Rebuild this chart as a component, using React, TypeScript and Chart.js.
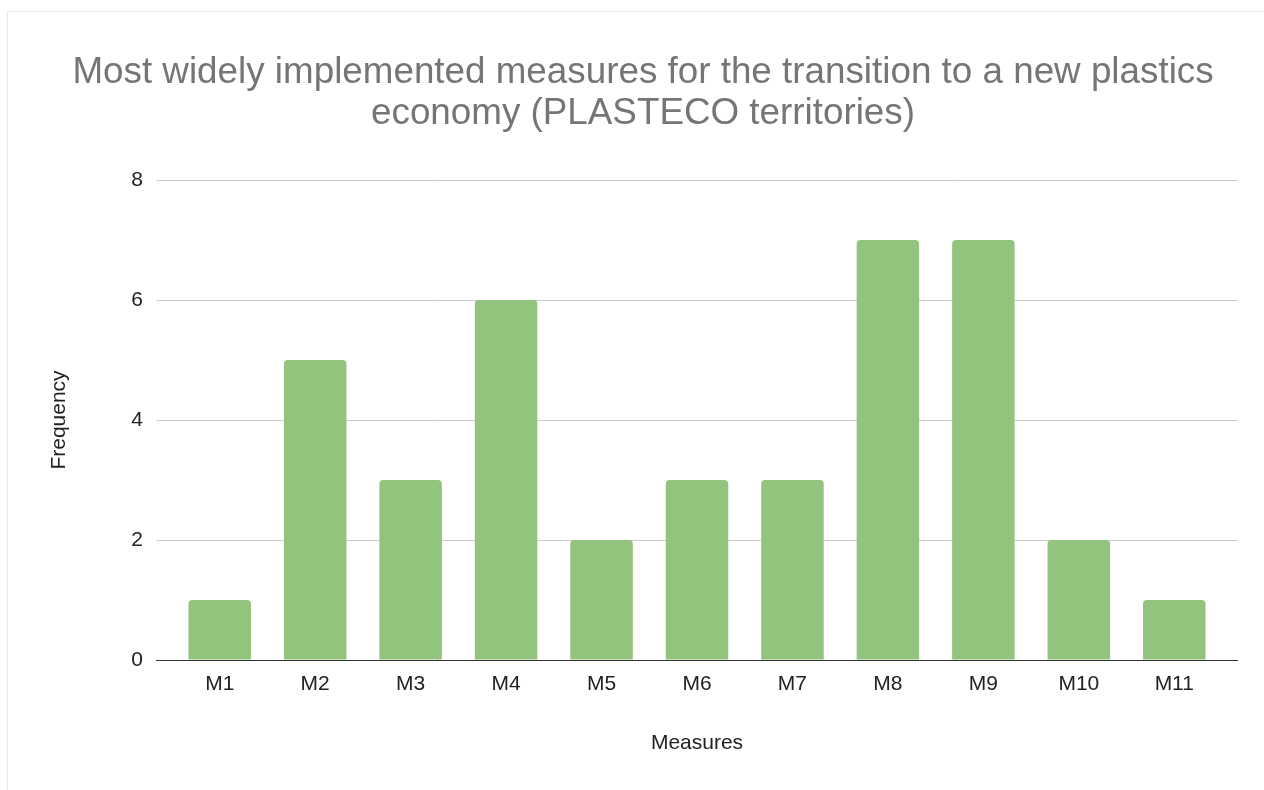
import React, { useEffect, useRef } from "react";
import { Chart, registerables } from "chart.js";

Chart.register(...registerables);

const categories = ["M1", "M2", "M3", "M4", "M5", "M6", "M7", "M8", "M9", "M10", "M11"];
const frequencies = [1, 5, 3, 6, 2, 3, 3, 7, 7, 2, 1];
const titleLines = [
  "Most widely implemented measures for the transition to a new plastics",
  "economy (PLASTECO territories)",
];
const yAxisTitle = "Frequency";
const xAxisTitle = "Measures";

const FONT = "'Liberation Sans', Arial, sans-serif";

export default function App() {
  const ref = useRef<HTMLCanvasElement | null>(null);

  useEffect(() => {
    if (!ref.current) return;
    const gridColor = (ctx: any) => (ctx.tick && ctx.tick.value === 0 ? "#333333" : "#cccccc");
    const chart = new Chart(ref.current, {
      type: "bar",
      data: {
        labels: categories,
        datasets: [
          {
            label: yAxisTitle,
            data: frequencies,
            backgroundColor: "#93c47d",
            borderWidth: 0,
            borderRadius: 4,
            barPercentage: 0.655,
            categoryPercentage: 1,
          },
        ],
      },
      options: {
        responsive: false,
        animation: false,
        layout: { padding: { left: 22, right: 0, top: 0, bottom: 34 } },
        plugins: {
          legend: { display: false },
          tooltip: { enabled: false },
          title: {
            display: true,
            text: titleLines,
            color: "#757575",
            font: { family: FONT, size: 36.8, weight: "normal", lineHeight: 41 / 36.8 },
            padding: { top: 52.5, bottom: 45.5 },
          },
        },
        scales: {
          x: {
            type: "category",
            offset: true,
            grid: { display: false, drawTicks: false },
            border: { display: false },
            ticks: {
              color: "#222222",
              padding: 12,
              font: { family: FONT, size: 21 },
              maxRotation: 0,
              autoSkip: false,
            },
            title: {
              display: true,
              text: xAxisTitle,
              color: "#222222",
              font: { family: FONT, size: 21 },
              padding: 0,
            },
            afterFit: (scale: any) => {
              scale.height = 96;
            },
          },
          y: {
            position: "left",
            min: 0,
            max: 8,
            ticks: {
              stepSize: 2,
              color: "#222222",
              padding: 13,
              font: { family: FONT, size: 21 },
            },
            grid: { color: gridColor, lineWidth: 1, drawTicks: true, tickLength: 16 },
            border: { display: false },
            title: {
              display: true,
              text: yAxisTitle,
              color: "#222222",
              font: { family: FONT, size: 21 },
              padding: { top: 25, bottom: 0 },
            },
            afterFit: (scale: any) => {
              scale.width = 150;
            },
          },
          y2: {
            position: "right",
            min: 0,
            max: 8,
            ticks: { stepSize: 2, display: false },
            grid: { color: gridColor, lineWidth: 1, drawOnChartArea: false, drawTicks: true, tickLength: 16 },
            border: { display: false },
            afterFit: (scale: any) => {
              scale.width = 42;
            },
          },
        },
      },
    } as any);
    return () => chart.destroy();
  }, []);

  return (
    <div style={{ position: "fixed", left: 0, top: 0, width: 1264, height: 790, background: "#ffffff" }}>
      <div
        style={{
          position: "absolute",
          left: 7,
          top: 11,
          width: 1300,
          height: 820,
          borderTop: "1px solid #ebebeb",
          borderLeft: "1px solid #ebebeb",
        }}
      />
      <canvas ref={ref} width={1264} height={790} style={{ position: "absolute", left: 0, top: 0 }} />
    </div>
  );
}
